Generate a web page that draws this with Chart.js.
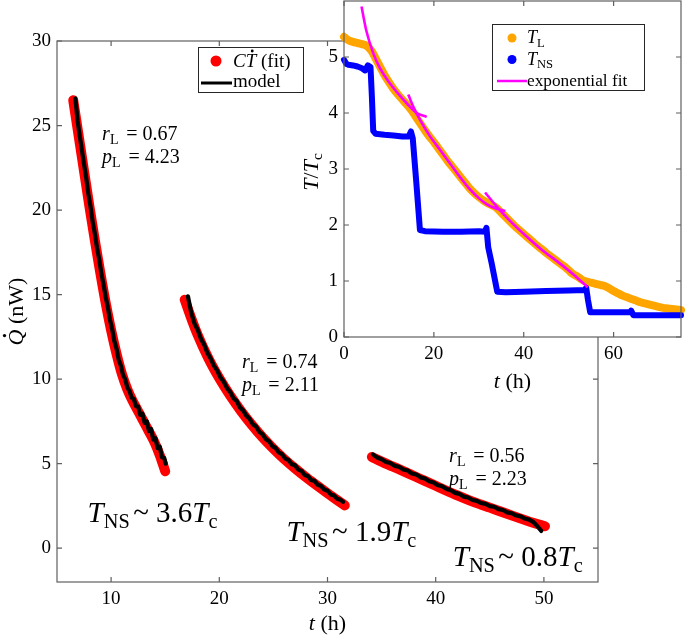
<!DOCTYPE html>
<html><head><meta charset="utf-8">
<script src="https://cdn.jsdelivr.net/npm/chart.js@4/dist/chart.umd.min.js"></script>
<style>
html,body{margin:0;padding:0;background:#fff;}
#wrap{position:relative;width:685px;height:637px;overflow:hidden;}
canvas{position:absolute;left:0;top:0;}
</style></head><body>
<div id="wrap"><canvas id="main" width="685" height="637"></canvas><canvas id="inset" width="685" height="637"></canvas></div>
<script>
// ---------- tick values ----------
const mainXTicks = [10, 20, 30, 40, 50];
const mainYTicks = [0, 5, 10, 15, 20, 25, 30];
const insetXTicks = [0, 20, 40, 60];
const insetYTicks = [0, 1, 2, 3, 4, 5];

// ---------- main panel: fitted C*dT/dt (red) ----------
const fit1T = [6.5, 7.0, 7.5, 8.0, 8.5, 9.0, 9.5, 10.0, 10.5, 11.0, 11.5, 12.0, 12.5, 13.0, 13.5, 14.0, 14.5, 15.0];
const fit1Q = [26.5, 24.4, 22.3, 20.2, 18.2, 16.3, 14.5, 12.9, 11.5, 10.3, 9.4, 8.7, 8.1, 7.5, 6.9, 6.28, 5.5, 4.55];
const fit2T = [16.8, 17.5, 18, 19, 20, 21, 22, 23, 24, 25, 26, 27, 28, 29, 30, 31, 31.6];
const fit2Q = [14.7, 13.44, 12.62, 11.22, 10.05, 9.03, 8.12, 7.3, 6.55, 5.88, 5.27, 4.72, 4.2, 3.72, 3.25, 2.8, 2.53];
const fit3T = [34.1, 35, 36, 37, 38, 39, 40, 41, 42, 43, 44, 45, 46, 47, 48, 49, 50.1];
const fit3Q = [5.4, 5.12, 4.84, 4.56, 4.27, 3.98, 3.69, 3.4, 3.12, 2.86, 2.62, 2.4, 2.17, 1.94, 1.72, 1.5, 1.3];

// ---------- main panel: model (black) ----------
const model1T = [6.7, 6.9, 7.1, 7.3, 7.5, 7.7, 7.9, 8.1, 8.3, 8.5, 8.7, 8.9, 9.1, 9.3, 9.5, 9.7, 9.9, 10.1, 10.3, 10.5, 10.7, 10.9, 11.1, 11.3, 11.5, 11.7, 11.9, 12.1, 12.3, 12.5, 12.7, 12.9, 13.1, 13.3, 13.5, 13.7, 13.9, 14.1, 14.3, 14.5, 14.7, 14.9, 15.05];
const model1Q = [26.6, 25.3, 24.4, 23.55, 22.7, 21.9, 20.95, 20.2, 19.3, 18.6, 17.75, 17.1, 16.25, 15.6, 14.85, 14.25, 13.5, 12.95, 12.25, 11.8, 11.15, 10.8, 10.25, 10.0, 9.5, 9.3, 8.9, 8.82, 8.4, 8.38, 7.88, 7.95, 7.42, 7.5, 6.93, 7.05, 6.42, 6.5, 5.92, 6.0, 5.38, 5.35, 5.0];
const model2T = [17.1, 17.4, 17.7, 18.0, 18.3, 18.6, 18.9, 19.2, 19.5, 19.8, 20.1, 20.4, 20.7, 21.0, 21.3, 21.6, 21.9, 22.2, 22.5, 22.8, 23.1, 23.4, 23.7, 24.0, 24.3, 24.6, 24.9, 25.2, 25.5, 25.8, 26.1, 26.4, 26.7, 27.0, 27.3, 27.6, 27.9, 28.2, 28.5, 28.8, 29.1, 29.4, 29.7, 30.0, 30.3, 30.6, 30.9, 31.2, 31.45];
const model2Q = [14.9, 13.95, 13.3, 12.92, 12.38, 12.05, 11.55, 11.22, 10.8, 10.52, 10.1, 9.86, 9.48, 9.25, 8.88, 8.72, 8.33, 8.15, 7.84, 7.66, 7.33, 7.2, 6.88, 6.74, 6.45, 6.33, 6.04, 5.93, 5.66, 5.56, 5.3, 5.22, 4.97, 4.9, 4.65, 4.57, 4.33, 4.26, 4.03, 3.98, 3.75, 3.68, 3.47, 3.4, 3.18, 3.12, 2.92, 2.86, 2.74];
const model3T = [34.2, 34.6, 35.0, 35.4, 35.8, 36.2, 36.6, 37.0, 37.4, 37.8, 38.2, 38.6, 39.0, 39.4, 39.8, 40.2, 40.6, 41.0, 41.4, 41.8, 42.2, 42.6, 43.0, 43.4, 43.8, 44.2, 44.6, 45.0, 45.4, 45.8, 46.2, 46.6, 47.0, 47.4, 47.8, 48.2, 48.6, 49.0, 49.4, 49.76];
const model3Q = [5.55, 5.36, 5.26, 5.1, 5.04, 4.87, 4.82, 4.66, 4.59, 4.42, 4.36, 4.19, 4.12, 3.96, 3.89, 3.72, 3.66, 3.5, 3.43, 3.27, 3.21, 3.05, 3.0, 2.85, 2.8, 2.67, 2.62, 2.49, 2.45, 2.31, 2.26, 2.12, 2.07, 1.94, 1.89, 1.76, 1.7, 1.56, 1.3, 1.02];

// ---------- annotation texts ----------
const rL = ['0.67', '0.74', '0.56'];
const pL = ['4.23', '2.11', '2.23'];
const tnsLabels = ['3.6', '1.9', '0.8'];

// ---------- inset: temperatures ----------
const tlT = [0,1,2,3,4,5,6,6.5,7,8,9,10,11,12,13,14,15,16,17,18,19,20,21,22,23,24,25,26,27,28,29,30,31,32,33,34,35,36,37,38,39,40,41,42,43,44,45,46,47,48,49,50,51,52,53,54,55,56,57,58,59,60,61,62,63,64,65,66,67,68,69,70,71,72,73,74,75];
const tlV = [5.36,5.3,5.27,5.25,5.23,5.2,5.12,5.06,4.98,4.83,4.68,4.55,4.43,4.33,4.24,4.15,4.05,3.93,3.81,3.69,3.58,3.48,3.37,3.26,3.15,3.05,2.95,2.85,2.75,2.65,2.57,2.5,2.44,2.39,2.35,2.3,2.22,2.14,2.06,1.98,1.91,1.84,1.77,1.7,1.63,1.57,1.5,1.44,1.38,1.32,1.26,1.19,1.12,1.08,1.02,0.99,0.97,0.95,0.93,0.91,0.87,0.82,0.78,0.74,0.71,0.68,0.65,0.62,0.6,0.58,0.56,0.54,0.52,0.51,0.5,0.49,0.48];
const tnsT = [0, 0.5, 1, 2, 3, 4, 4.7, 5.3, 5.9, 6.2, 6.5, 7, 9, 11, 13, 14.4, 14.9, 15.3, 16.1, 16.9, 18, 22, 26, 30, 31.4, 31.7, 32.1, 32.9, 34.1, 36, 40, 45, 50, 53.6, 53.9, 54.3, 54.8, 58, 63.6, 63.9, 64.4, 70, 75];
const tnsV = [4.95, 4.88, 4.86, 4.85, 4.83, 4.8, 4.76, 4.85, 4.82, 4.3, 3.68, 3.63, 3.61, 3.6, 3.58, 3.58, 3.67, 3.55, 2.75, 1.91, 1.89, 1.88, 1.88, 1.89, 1.88, 1.95, 1.6, 1.3, 0.81, 0.8, 0.81, 0.82, 0.83, 0.84, 0.88, 0.66, 0.44, 0.44, 0.44, 0.47, 0.39, 0.39, 0.39];
const exp1T = [3.9, 5, 6.5, 8, 10.2, 12, 14, 16.2, 18.4];
const exp1V = [5.9, 5.46, 5.07, 4.8, 4.53, 4.35, 4.17, 4.0, 3.93];
const exp2T = [14.3, 15.5, 16.9, 19, 21.4, 23.6, 25.8, 28.1, 30, 31.8, 34, 35.9];
const exp2V = [4.33, 4.1, 3.88, 3.6, 3.34, 3.1, 2.86, 2.63, 2.48, 2.37, 2.29, 2.25];
const exp3T = [31.4, 34, 37, 40.7, 44, 48.1, 51, 54.2];
const exp3V = [2.58, 2.33, 2.07, 1.79, 1.56, 1.31, 1.12, 0.89];

// ---------- helpers ----------
const FAM = '"Liberation Serif", "Times New Roman", serif';
const pts = (xs, ys) => xs.map((v, i) => ({x: v, y: ys[i]}));
function fontFor(p, size) {
  const s = p.sub ? size * 0.7 : size;
  return (p.i ? 'italic ' : '') + s + 'px ' + FAM;
}
function richWidth(ctx, parts, size) {
  let w = 0;
  for (const p of parts) { ctx.font = fontFor(p, size); w += ctx.measureText(p.t).width + (p.pre || 0) * size; }
  return w;
}
function drawRich(ctx, parts, x, y, size, align) {
  const w = richWidth(ctx, parts, size);
  let cx = align === 'center' ? x - w / 2 : (align === 'right' ? x - w : x);
  ctx.textAlign = 'left'; ctx.textBaseline = 'alphabetic'; ctx.fillStyle = '#000';
  for (const p of parts) {
    cx += (p.pre || 0) * size;
    ctx.font = fontFor(p, size);
    const dy = p.sub ? size * 0.2 : 0;
    ctx.fillText(p.t, cx, y + dy);
    const tw = ctx.measureText(p.t).width;
    if (p.dot) { ctx.beginPath(); ctx.arc(cx + tw * 0.62, y - size * 0.84, size * 0.075, 0, Math.PI * 2); ctx.fill(); }
    cx += tw;
  }
}
function drawFrame(ctx, ca, xs, ys, xt, yt, color) {
  ctx.save();
  ctx.strokeStyle = color; ctx.lineWidth = 1.2;
  ctx.strokeRect(ca.left, ca.top, ca.right - ca.left, ca.bottom - ca.top);
  const L = 5;
  ctx.beginPath();
  for (const v of xt) {
    const p = xs.getPixelForValue(v);
    ctx.moveTo(p, ca.bottom); ctx.lineTo(p, ca.bottom - L);
    ctx.moveTo(p, ca.top); ctx.lineTo(p, ca.top + L);
  }
  for (const v of yt) {
    const p = ys.getPixelForValue(v);
    ctx.moveTo(ca.left, p); ctx.lineTo(ca.left + L, p);
    ctx.moveTo(ca.right, p); ctx.lineTo(ca.right - L, p);
  }
  ctx.stroke();
  ctx.restore();
}
function fixedScale(w, h) {
  return function (s) {
    if (w !== null) s.width = w;
    if (h !== null) s.height = h;
    s.paddingLeft = 0; s.paddingRight = 0; s.paddingTop = 0; s.paddingBottom = 0;
  };
}
const tickFont = (sz) => ({family: FAM, size: sz});

// ---------- main chart ----------
const redLine = {order: 1, borderColor: '#ff0000', backgroundColor: '#ff0000', borderWidth: 10, borderCapStyle: 'round', borderJoinStyle: 'round', pointRadius: 0, cubicInterpolationMode: 'monotone', fill: false};
const blackLine = {order: 0, borderColor: '#000000', backgroundColor: '#000000', borderWidth: 4.2, borderCapStyle: 'round', borderJoinStyle: 'round', pointRadius: 0, tension: 0, fill: false};

const mainDecor = {
  id: 'mainDecor',
  afterDatasetsDraw(chart) {
    const {ctx, chartArea: ca, scales: {x, y}} = chart;
    drawFrame(ctx, ca, x, y, mainXTicks, mainYTicks, '#5f5f5f');
    ctx.save();
    // parameter annotations (anchored in data coordinates)
    const paramPos = [[9.17, 24.13, 22.77], [22.1, 10.68, 9.32], [41.24, 5.11, 3.75]];
    paramPos.forEach((pp, i) => {
      const px = x.getPixelForValue(pp[0]);
      drawRich(ctx, [{t: 'r', i: 1}, {t: 'L', sub: 1}, {t: ' = ' + rL[i], pre: 0.14}], px, y.getPixelForValue(pp[1]), 20, 'left');
      drawRich(ctx, [{t: 'p', i: 1}, {t: 'L', sub: 1}, {t: ' = ' + pL[i], pre: 0.14}], px, y.getPixelForValue(pp[2]), 20, 'left');
    });
    const tnsPos = [[7.83, 1.56], [26.21, 0.43], [41.58, -1.05]];
    tnsPos.forEach((pp, i) => {
      drawRich(ctx, [{t: 'T', i: 1}, {t: 'NS', sub: 1}, {t: '~', pre: 0.12}, {t: tnsLabels[i], pre: 0.25}, {t: 'T', i: 1}, {t: 'c', sub: 1}],
        x.getPixelForValue(pp[0]), y.getPixelForValue(pp[1]), 29, 'left');
    });
    // axis titles
    drawRich(ctx, [{t: 't', i: 1}, {t: ' (h)'}], (ca.left + ca.right) / 2, 630, 22, 'center');
    ctx.save();
    ctx.translate(23, (ca.top + ca.bottom) / 2);
    ctx.rotate(-Math.PI / 2);
    drawRich(ctx, [{t: 'Q', i: 1, dot: 1}, {t: ' (nW)'}], 0, 0, 22, 'center');
    ctx.restore();
    // legend
    const bx = 198.5, by = 47.5, bw = 105, bh = 45;
    ctx.fillStyle = '#fff'; ctx.fillRect(bx, by, bw, bh);
    ctx.strokeStyle = '#262626'; ctx.lineWidth = 1; ctx.strokeRect(bx, by, bw, bh);
    ctx.fillStyle = '#ff0000'; ctx.beginPath(); ctx.arc(216, 61, 5.5, 0, Math.PI * 2); ctx.fill();
    drawRich(ctx, [{t: 'C', i: 1}, {t: 'T', i: 1, dot: 1}, {t: ' (fit)'}], 233, 67, 19, 'left');
    ctx.strokeStyle = '#000'; ctx.lineWidth = 3; ctx.beginPath(); ctx.moveTo(201, 83); ctx.lineTo(232, 83); ctx.stroke();
    drawRich(ctx, [{t: 'model'}], 233, 87, 19, 'left');
    ctx.restore();
  }
};

new Chart(document.getElementById('main'), {
  type: 'line',
  data: {
    datasets: [
      Object.assign({label: 'CT (fit) 1', data: pts(fit1T, fit1Q)}, redLine),
      Object.assign({label: 'CT (fit) 2', data: pts(fit2T, fit2Q)}, redLine),
      Object.assign({label: 'CT (fit) 3', data: pts(fit3T, fit3Q)}, redLine),
      Object.assign({label: 'model 1', data: pts(model1T, model1Q)}, blackLine),
      Object.assign({label: 'model 2', data: pts(model2T, model2Q)}, blackLine),
      Object.assign({label: 'model 3', data: pts(model3T, model3Q)}, blackLine)
    ]
  },
  options: {
    responsive: false, animation: false, devicePixelRatio: 1,
    layout: {padding: {left: 0, right: 87, top: 41, bottom: 0}},
    plugins: {legend: {display: false}, tooltip: {enabled: false}},
    scales: {
      x: {
        type: 'linear', min: 5, max: 55,
        afterBuildTicks: s => { s.ticks = mainXTicks.map(v => ({value: v})); },
        afterFit: fixedScale(null, 55),
        grid: {display: false, drawTicks: false}, border: {display: false},
        ticks: {padding: 6, color: '#000', font: tickFont(19), maxRotation: 0, autoSkip: false}
      },
      y: {
        type: 'linear', min: -2, max: 30,
        afterBuildTicks: s => { s.ticks = mainYTicks.map(v => ({value: v})); },
        afterFit: fixedScale(57, null),
        grid: {display: false, drawTicks: false}, border: {display: false},
        ticks: {padding: 6, color: '#000', font: tickFont(19), autoSkip: false}
      }
    }
  },
  plugins: [mainDecor]
});

// ---------- inset chart ----------
const insetDecor = {
  id: 'insetDecor',
  beforeDraw(chart) {
    const {ctx, chartArea: ca} = chart;
    ctx.save(); ctx.fillStyle = '#fff';
    ctx.fillRect(ca.left, ca.top, ca.right - ca.left, ca.bottom - ca.top);
    ctx.restore();
  },
  afterDatasetsDraw(chart) {
    const {ctx, chartArea: ca, scales: {x, y}} = chart;
    drawFrame(ctx, ca, x, y, insetXTicks, insetYTicks, '#5f5f5f');
    ctx.save();
    drawRich(ctx, [{t: 't', i: 1}, {t: ' (h)'}], (ca.left + ca.right) / 2, 388, 22, 'center');
    ctx.save();
    ctx.translate(318, (ca.top + ca.bottom) / 2 + 3);
    ctx.rotate(-Math.PI / 2);
    drawRich(ctx, [{t: 'T', i: 1}, {t: '/'}, {t: 'T', i: 1}, {t: 'c', sub: 1}], 0, 0, 22, 'center');
    ctx.restore();
    // legend
    const bx = 492.5, by = 24.5, bw = 152, bh = 66;
    ctx.fillStyle = '#fff'; ctx.fillRect(bx, by, bw, bh);
    ctx.strokeStyle = '#262626'; ctx.lineWidth = 1; ctx.strokeRect(bx, by, bw, bh);
    ctx.fillStyle = '#ffa500'; ctx.beginPath(); ctx.arc(512, 38, 4.5, 0, Math.PI * 2); ctx.fill();
    drawRich(ctx, [{t: 'T', i: 1}, {t: 'L', sub: 1}], 527, 43, 18, 'left');
    ctx.fillStyle = '#0000ff'; ctx.beginPath(); ctx.arc(512, 59.5, 4.5, 0, Math.PI * 2); ctx.fill();
    drawRich(ctx, [{t: 'T', i: 1}, {t: 'NS', sub: 1}], 527, 64.5, 18, 'left');
    ctx.strokeStyle = '#ff00ff'; ctx.lineWidth = 2.5; ctx.beginPath(); ctx.moveTo(497, 81); ctx.lineTo(527, 81); ctx.stroke();
    drawRich(ctx, [{t: 'exponential fit'}], 527, 86, 17.3, 'left');
    ctx.restore();
  }
};
const magentaLine = {order: 0, borderColor: '#ff00ff', backgroundColor: '#ff00ff', borderWidth: 2.6, pointRadius: 0, cubicInterpolationMode: 'monotone', fill: false, clip: false};

new Chart(document.getElementById('inset'), {
  type: 'line',
  data: {
    datasets: [
      {label: 'T_L', order: 2, data: pts(tlT, tlV), borderColor: '#ffa500', backgroundColor: '#ffa500', borderWidth: 8, borderCapStyle: 'round', borderJoinStyle: 'round', pointRadius: 0, cubicInterpolationMode: 'monotone', fill: false, clip: false},
      {label: 'T_NS', order: 1, data: pts(tnsT, tnsV), borderColor: '#0000ff', backgroundColor: '#0000ff', borderWidth: 6, borderCapStyle: 'round', borderJoinStyle: 'round', pointRadius: 0, tension: 0, fill: false, clip: false},
      Object.assign({label: 'exponential fit 1', data: pts(exp1T, exp1V)}, magentaLine),
      Object.assign({label: 'exponential fit 2', data: pts(exp2T, exp2V)}, magentaLine),
      Object.assign({label: 'exponential fit 3', data: pts(exp3T, exp3V)}, magentaLine)
    ]
  },
  options: {
    responsive: false, animation: false, devicePixelRatio: 1,
    layout: {padding: {left: 0, right: 4, top: 1, bottom: 0}},
    plugins: {legend: {display: false}, tooltip: {enabled: false}},
    scales: {
      x: {
        type: 'linear', min: 0, max: 75,
        afterBuildTicks: s => { s.ticks = insetXTicks.map(v => ({value: v})); },
        afterFit: fixedScale(null, 300),
        grid: {display: false, drawTicks: false}, border: {display: false},
        ticks: {padding: 6, color: '#000', font: tickFont(19), maxRotation: 0, autoSkip: false}
      },
      y: {
        type: 'linear', min: 0, max: 6,
        afterBuildTicks: s => { s.ticks = insetYTicks.map(v => ({value: v})); },
        afterFit: fixedScale(344, null),
        grid: {display: false, drawTicks: false}, border: {display: false},
        ticks: {padding: 6, color: '#000', font: tickFont(19), autoSkip: false}
      }
    }
  },
  plugins: [insetDecor]
});
</script>
</body></html>
